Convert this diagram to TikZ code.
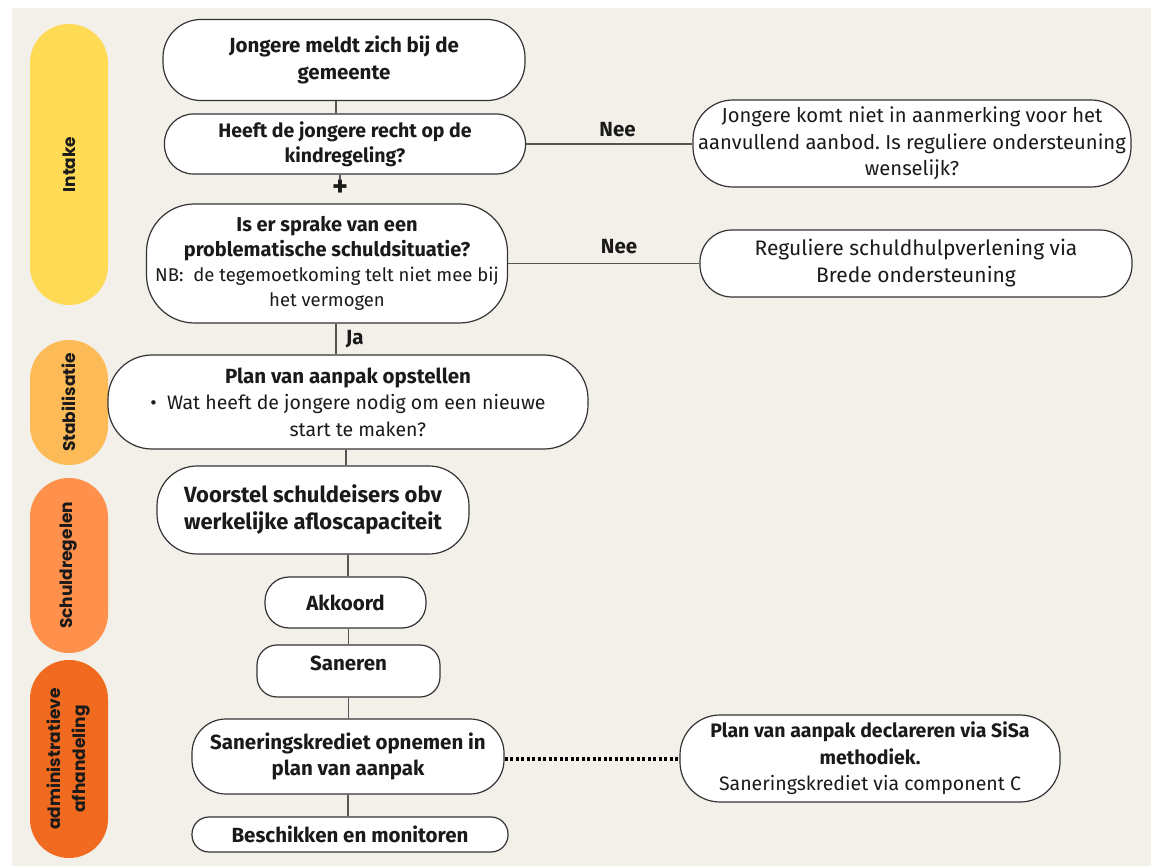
\documentclass[tikz,border=0pt]{standalone}
\usepackage{fontspec}
\setmainfont{Fira Sans}
\newfontfamily\fasefont{Poppins}
\usetikzlibrary{positioning}
\frenchspacing

\definecolor{achtergrond}{HTML}{F3EFE9}
\definecolor{intakegeel}{HTML}{FFDA55}
\definecolor{stabgeel}{HTML}{FDBB57}
\definecolor{schuldoranje}{HTML}{FF914D}
\definecolor{adminoranje}{HTML}{F06B1F}
\definecolor{lijngrijs}{HTML}{555555}
\definecolor{tekst}{HTML}{1A1A1A}

\tikzset{
  stap/.style={draw=black!80, fill=white, line width=1.2pt, rounded corners=30pt,
    align=center, inner sep=0pt, text=tekst, font=\fontsize{20.5}{26.5}\selectfont},
  fase/.style={fill=#1, rounded corners=38.9pt, minimum height=78pt, inner sep=0pt,
    rotate=90, align=center, text=tekst, font=\fasefont\bfseries\fontsize{17}{25}\selectfont},
  lijn/.style={draw=lijngrijs, line width=1.1pt},
  antwoord/.style={text=tekst, font=\bfseries\fontsize{20.5}{22}\selectfont}
}
\newcommand{\kleiner}{\fontsize{18.5}{26}\selectfont}

\begin{document}
\begin{tikzpicture}[x=1pt,y=-1pt]
  \fill[white] (0,0) rectangle (1151,866);
  \fill[achtergrond] (12,8) rectangle (1151,866);

  % fases
  \node[fase=intakegeel, minimum width=281pt] (intake) at (69,164.5) {Intake};
  \node[fase=stabgeel, minimum width=125pt] (stab) at (69,402.5) {Stabilisatie};
  \node[fase=schuldoranje, minimum width=175pt] (schuld) at (69,565.5) {Schuldregelen};
  \node[fase=adminoranje, minimum width=198pt] (admin) at (69,759) {administratieve\\afhandeling};

  % stappen
  \node[stap, minimum width=362pt, minimum height=81pt, rounded corners=38pt] (meldt) at (344,60)
    {\bfseries Jongere meldt zich bij de\\\bfseries gemeente};
  \node[stap, minimum width=361pt, minimum height=60pt, rounded corners=29pt,
    font=\fontsize{19.5}{25}\selectfont] (kind) at (345,144)
    {\bfseries Heeft de jongere recht op de\\\bfseries kindregeling?};
  \node[stap, minimum width=361pt, minimum height=119pt, rounded corners=48pt,
    font=\fontsize{20}{25}\selectfont] (sprake) at (327,263.5)
    {\bfseries Is er sprake van een\\\bfseries problematische schuldsituatie?\\\kleiner NB:\ \ de tegemoetkoming telt niet mee bij\\\kleiner het vermogen};
  \node[stap, minimum width=438pt, minimum height=87pt, rounded corners=40pt,
    font=\fontsize{20.2}{26.5}\selectfont] (niet) at (912,143.5)
    {Jongere komt niet in aanmerking voor het\\aanvullend aanbod. Is reguliere ondersteuning\\wenselijk?};
  \node[stap, minimum width=432pt, minimum height=67pt, rounded corners=32pt,
    font=\fontsize{21}{27}\selectfont] (breed) at (916,263.5)
    {Reguliere schuldhulpverlening via\\Brede ondersteuning};
  \node[stap, minimum width=480pt, minimum height=94pt, rounded corners=44pt] (plan) at (348,402)
    {\bfseries Plan van aanpak opstellen\\\fontsize{19.5}{27}\selectfont\textbullet\ \ Wat heeft de jongere nodig om een nieuwe\\\fontsize{19.5}{27}\selectfont\quad start te maken?};
  \node[stap, minimum width=312pt, minimum height=88pt, rounded corners=40pt,
    font=\fontsize{22}{27}\selectfont] (voorstel) at (313,510)
    {\bfseries Voorstel schuldeisers obv\\\bfseries werkelijke afloscapaciteit};
  \node[stap, minimum width=161pt, minimum height=51pt, rounded corners=24pt] (akkoord) at (345.5,602.5)
    {\bfseries Akkoord};
  \node[stap, minimum width=183pt, minimum height=52pt, rounded corners=20pt, text depth=16pt] (saneren) at (348.5,671)
    {\bfseries Saneren};
  \node[stap, minimum width=312pt, minimum height=75pt, rounded corners=34pt] (krediet) at (348,756.5)
    {\bfseries Saneringskrediet opnemen in\\\bfseries plan van aanpak};
  \node[stap, minimum width=316pt, minimum height=35pt, rounded corners=17pt] (beschikken) at (350,834.5)
    {\bfseries Beschikken en monitoren};
  \node[stap, minimum width=380pt, minimum height=87pt, rounded corners=40pt,
    font=\fontsize{19.5}{26.5}\selectfont] (sisa) at (870,758.5)
    {\bfseries Plan van aanpak declareren via SiSa\\\bfseries methodiek.\\Saneringskrediet via component C};

  \node[antwoord, font=\bfseries\fontsize{30}{30}\selectfont, inner sep=0pt] (plus) at (340,188) {+};

  % verbindingen
  \draw[lijn] ([xshift=-8pt]meldt.south) -- ([xshift=-8pt]meldt.south |- kind.north);
  \draw[lijn] (kind.south -| plus) -- (plus);
  \draw[lijn] ([xshift=9pt]sprake.south) -- ([xshift=9pt]sprake.south |- plan.north)
    node[antwoord, pos=0.5, right=6pt] (ja) {Ja};
  \draw[lijn] ([xshift=-2pt]plan.south) -- ([xshift=-2pt]plan.south |- voorstel.north);
  \draw[lijn] ([xshift=35pt]voorstel.south) -- ([xshift=35pt]voorstel.south |- akkoord.north);
  \draw[lijn] ([xshift=3pt]akkoord.south) -- ([xshift=3pt]akkoord.south |- saneren.north);
  \draw[lijn] (saneren.south) -- (saneren.south |- krediet.north);
  \draw[lijn] (krediet.south) -- (krediet.south |- beschikken.north);

  \draw[lijn] (kind.east) -- (kind.east -| niet.west)
    node[antwoord, pos=0.55, above=3pt] (nee1) {Nee};
  \draw[lijn] (sprake.east) -- (sprake.east -| breed.west)
    node[antwoord, pos=0.58, above=6pt] (nee2) {Nee};

  \draw[black, line width=4pt, dash pattern=on 3pt off 2.5pt]
    (krediet.east |- sisa.west) -- (sisa.west);
\end{tikzpicture}
\end{document}
